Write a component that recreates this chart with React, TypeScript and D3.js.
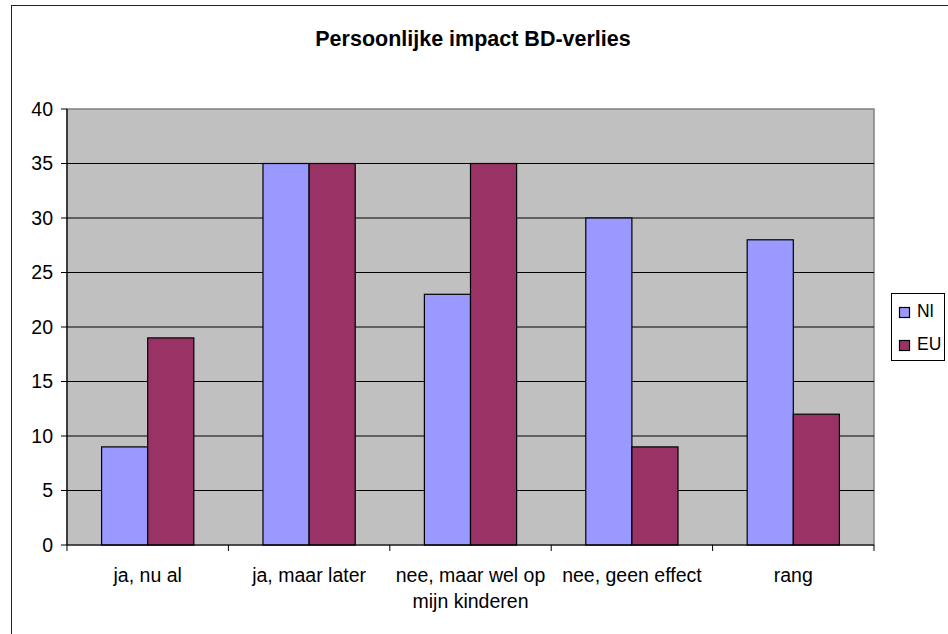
import * as d3 from 'd3';
import * as React from 'react';

const categories = ['ja, nu al', 'ja, maar later', 'nee, maar wel op|mijn kinderen', 'nee, geen effect', 'rang'];
const seriesNames = ['Nl', 'EU'];
const nlValues = [9, 35, 23, 30, 28];
const euValues = [19, 35, 35, 9, 12];
const yTicks = [0, 5, 10, 15, 20, 25, 30, 35, 40];

const colors = ['#9999FF', '#993366'];
const font = 'Arial, "Liberation Sans", sans-serif';

const W = 948;
const H = 634;
const plot = { left: 67, top: 109, right: 874, bottom: 545 };

export default function App(): JSX.Element {
  const x = d3.scaleBand<string>()
    .domain(categories)
    .range([plot.left, plot.right]);

  // Excel gap width 150%: two bars + 1.5 bar of gap per category
  const barW = x.bandwidth() / 3.5;
  const inner = d3.scaleBand<string>()
    .domain(seriesNames)
    .range([barW * 0.75, barW * 2.75]);

  const y = d3.scaleLinear().domain([0, 40]).range([plot.bottom, plot.top]);

  const series = [nlValues, euValues];

  return (
    <svg
      width={W}
      height={H}
      style={{ position: 'absolute', left: 0, top: 0, display: 'block' }}
      fontFamily={font}
    >
      <rect x={0} y={0} width={W} height={H} fill='#fff' />
      <rect x={11.5} y={5.5} width={W + 20} height={H + 20} fill='#fff' stroke='#222' strokeWidth={1} />

      <text x={473} y={46} textAnchor='middle' fontSize={21.5} fontWeight='bold'>
        Persoonlijke impact BD-verlies
      </text>

      <rect
        x={plot.left}
        y={plot.top}
        width={plot.right - plot.left}
        height={plot.bottom - plot.top}
        fill='#C0C0C0'
        stroke='#808080'
        strokeWidth={1.5}
      />

      {yTicks.filter((t) => t > 0 && t < 40).map((t) => (
        <line key={t} x1={plot.left} x2={plot.right} y1={y(t)} y2={y(t)} stroke='#000' strokeWidth={1} />
      ))}

      {series.map((vals, si) => (
        <g key={si}>
          {vals.map((v, i) => (
            <rect
              key={i}
              x={(x(categories[i]) as number) + (inner(seriesNames[si]) as number)}
              y={y(v)}
              width={inner.bandwidth()}
              height={y(0) - y(v)}
              fill={colors[si]}
              stroke='#000'
              strokeWidth={1.2}
            />
          ))}
        </g>
      ))}

      {/* axes */}
      <line x1={plot.left} x2={plot.left} y1={plot.top} y2={plot.bottom} stroke='#000' strokeWidth={1.2} />
      <line x1={plot.left} x2={plot.right} y1={plot.bottom} y2={plot.bottom} stroke='#000' strokeWidth={1.2} />

      {yTicks.map((t) => (
        <g key={t}>
          <line x1={plot.left - 6} x2={plot.left} y1={y(t)} y2={y(t)} stroke='#000' />
          <text x={53} y={y(t) + 6.5} textAnchor='end' fontSize={19.5}>{t}</text>
        </g>
      ))}

      {categories.map((c, i) => (
        <line
          key={'t' + i}
          x1={(x(c) as number) + x.bandwidth()}
          x2={(x(c) as number) + x.bandwidth()}
          y1={plot.bottom}
          y2={plot.bottom + 6}
          stroke='#000'
        />
      ))}
      <line x1={plot.left} x2={plot.left} y1={plot.bottom} y2={plot.bottom + 6} stroke='#000' />

      {categories.map((c) => {
        const cx = (x(c) as number) + x.bandwidth() / 2;
        return (
          <text key={c} x={cx} y={582} textAnchor='middle' fontSize={19.5}>
            {c.split('|').map((line, li) => (
              <tspan key={li} x={cx} dy={li === 0 ? 0 : 26}>{line}</tspan>
            ))}
          </text>
        );
      })}

      {/* legend */}
      <rect x={891.5} y={293.5} width={53} height={67} fill='#fff' stroke='#000' />
      {seriesNames.map((s, i) => (
        <g key={s}>
          <rect x={899.5} y={307.5 + i * 33} width={10} height={10} fill={colors[i]} stroke='#000' strokeWidth={1.2} />
          <text x={917} y={317 + i * 33} fontSize={17.5}>{s}</text>
        </g>
      ))}
    </svg>
  );
}
